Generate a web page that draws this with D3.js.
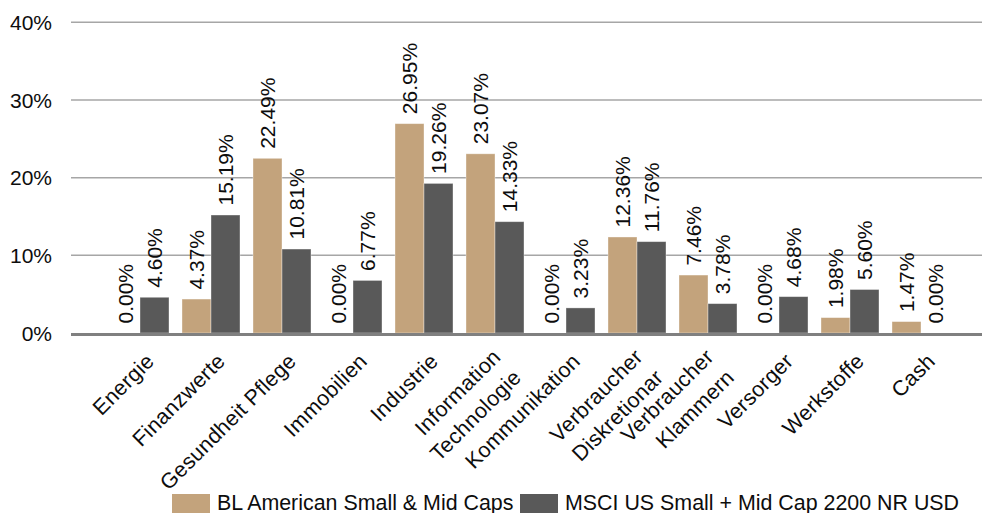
<!DOCTYPE html>
<html>
<head>
<meta charset="utf-8">
<script src="https://cdn.jsdelivr.net/npm/d3@7"></script>
<style>
  html, body { margin: 0; padding: 0; background: #fff; }
  svg { display: block; font-family: "Liberation Sans", Arial, sans-serif; }
</style>
</head>
<body>
<div id="chart"></div>
<script>
// sector names, lines split where the label wraps
const categories = [
  ['Energie'],
  ['Finanzwerte'],
  ['Gesundheit Pflege'],
  ['Immobilien'],
  ['Industrie'],
  ['Information', 'Technologie'],
  ['Kommunikation'],
  ['Verbraucher', 'Diskretionar'],
  ['Verbraucher', 'Klammern'],
  ['Versorger'],
  ['Werkstoffe'],
  ['Cash']
];
const seriesNames = ['BL American Small & Mid Caps', 'MSCI US Small + Mid Cap 2200 NR USD'];
const fundValues = [0.00, 4.37, 22.49, 0.00, 26.95, 23.07, 0.00, 12.36, 7.46, 0.00, 1.98, 1.47];
const indexValues = [4.60, 15.19, 10.81, 6.77, 19.26, 14.33, 3.23, 11.76, 3.78, 4.68, 5.60, 0.00];
const yTicks = [0, 10, 20, 30, 40];
const colors = ['#C3A37C', '#595959'];

const width = 982;
const height = 513;
const textColor = '#0d0d0d';

const svg = d3.select('#chart').append('svg')
  .attr('width', width)
  .attr('height', height);

const keys = categories.map(function(c) { return c.join(' '); });

const y = d3.scaleLinear()
  .domain([0, 40])
  .range([333, 22.3]);

const x0 = d3.scaleBand()
  .domain(keys)
  .range([104.5, 956.5])
  .padding(0);

const x1 = d3.scaleBand()
  .domain([0, 1])
  .range([6.5, x0.bandwidth() - 6.5]);

// gridlines
svg.append('g')
  .selectAll('line')
  .data(yTicks.filter(function(t) { return t > 0; }))
  .enter().append('line')
  .attr('x1', 71)
  .attr('x2', 982)
  .attr('y1', function(d) { return y(d); })
  .attr('y2', function(d) { return y(d); })
  .attr('stroke', '#a6a6a6')
  .attr('stroke-width', 1.5);

// y tick labels
svg.append('g')
  .selectAll('text')
  .data(yTicks)
  .enter().append('text')
  .attr('x', 52)
  .attr('y', function(d) { return y(d); })
  .attr('dy', '0.36em')
  .attr('text-anchor', 'end')
  .attr('font-size', 21)
  .attr('fill', textColor)
  .text(function(d) { return d + '%'; });

const rows = keys.map(function(k, i) {
  return { key: k, values: [fundValues[i], indexValues[i]] };
});

const group = svg.append('g')
  .selectAll('g')
  .data(rows)
  .enter().append('g')
  .attr('transform', function(d) { return 'translate(' + x0(d.key) + ',0)'; });

group.selectAll('rect')
  .data(function(d) { return d.values.map(function(v, s) { return { v: v, s: s }; }); })
  .enter().append('rect')
  .attr('x', function(d) { return x1(d.s); })
  .attr('width', x1.bandwidth())
  .attr('y', function(d) { return y(d.v); })
  .attr('height', function(d) { return y(0) - y(d.v); })
  .attr('fill', function(d) { return colors[d.s]; })
  .attr('stroke', 'rgba(255,255,255,0.45)')
  .attr('stroke-width', 0.8);

// value labels, rotated
group.selectAll('text')
  .data(function(d) { return d.values.map(function(v, s) { return { v: v, s: s }; }); })
  .enter().append('text')
  .attr('transform', function(d) {
    const cx = x1(d.s) + x1.bandwidth() / 2;
    return 'translate(' + cx + ',' + (y(d.v) - 9.5) + ') rotate(-90)';
  })
  .attr('dy', '0.36em')
  .attr('font-size', 21)
  .attr('fill', textColor)
  .text(function(d) { return d.v.toFixed(2) + '%'; });

// baseline
svg.append('line')
  .attr('x1', 71)
  .attr('x2', 982)
  .attr('y1', y(0) + 1.5)
  .attr('y2', y(0) + 1.5)
  .attr('stroke', '#808080')
  .attr('stroke-width', 3);

// category labels at -45 degrees
const catLabel = svg.append('g')
  .selectAll('text')
  .data(categories)
  .enter().append('text')
  .attr('transform', function(d, i) {
    const cx = x0(keys[i]) + x0.bandwidth() / 2;
    return 'translate(' + (cx + 15.5) + ',' + 362.5 + ') rotate(-45)';
  })
  .attr('text-anchor', 'end')
  .attr('font-size', 21.5)
  .attr('letter-spacing', 0.3)
  .attr('fill', textColor);

catLabel.selectAll('tspan')
  .data(function(d) { return d; })
  .enter().append('tspan')
  .attr('x', function(d, i, nodes) { return nodes.length > 1 ? -3 : 0; })
  .attr('y', function(d, i, nodes) { return nodes.length > 1 ? -9 + i * 29 : 0; })
  .text(function(d) { return d; });

// legend
const legendX = [172, 520];
const legend = svg.append('g')
  .selectAll('g')
  .data(seriesNames)
  .enter().append('g')
  .attr('transform', function(d, i) { return 'translate(' + legendX[i] + ',494)'; });

legend.append('rect')
  .attr('width', 38)
  .attr('height', 19)
  .attr('fill', function(d, i) { return colors[i]; });

legend.append('text')
  .attr('x', 45)
  .attr('y', 15.5)
  .attr('font-size', 21.4)
  .attr('fill', textColor)
  .text(function(d) { return d; });
</script>
</body>
</html>
